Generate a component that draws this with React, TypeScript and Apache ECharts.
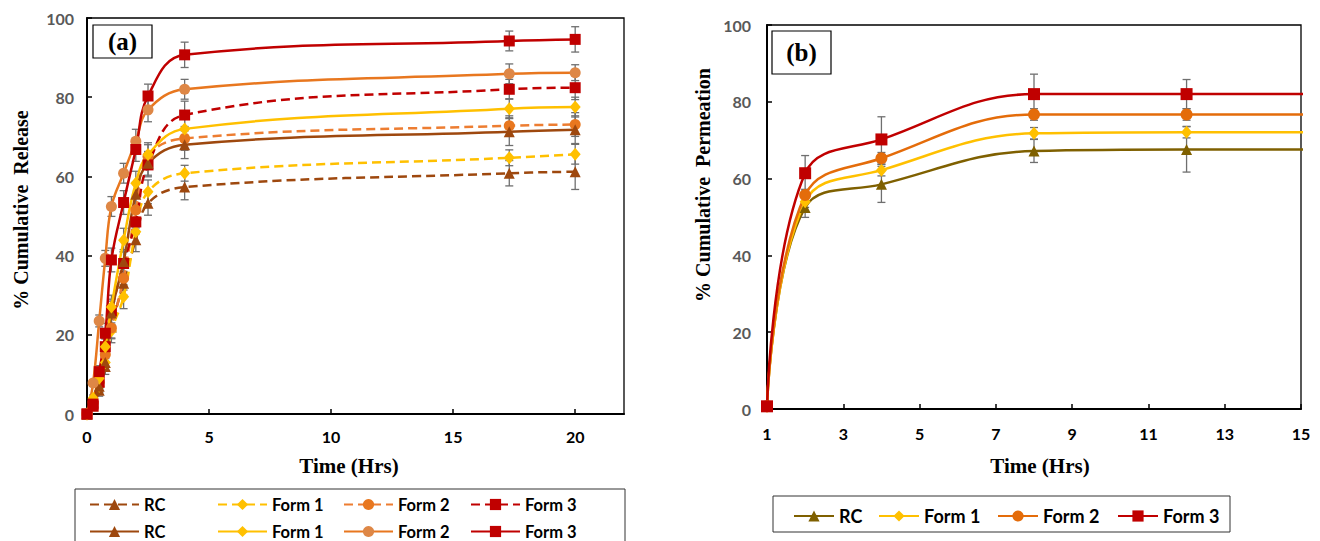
import React, { useEffect, useRef } from "react";
import * as echarts from "echarts";

// ---------- Panel (a): % cumulative release ----------
const timesA = [0, 0.25, 0.5, 0.75, 1, 1.5, 2, 2.5, 4, 17.3, 20];

const rcDashed = [0, 2, 6, 12, 22, 33, 44, 53.2, 57.3, 60.8, 61.2];
const form1Dashed = [0, 2.5, 7, 13, 21, 29.6, 46, 56.1, 60.8, 64.7, 65.6];
const form2Dashed = [0, 3, 8, 15, 21.7, 34.3, 51.5, 65, 69.6, 72.8, 73.1];
const form3Dashed = [0, 2, 8, 17, 26, 38, 48.5, 62.9, 75.5, 82, 82.4];

const rcSolid = [0, 3, 7, 13, 25.5, 38.5, 55.5, 63.3, 68, 71.3, 71.8];
const form1Solid = [0, 4, 9, 17, 27, 43.9, 58.3, 65.5, 72, 77.1, 77.5];
const form2Solid = [0, 7.8, 23.5, 39.3, 52.4, 60.8, 68.9, 76.8, 82, 85.9, 86.2];
const form3Solid = [0, 2.5, 10.7, 20.4, 38.9, 53.4, 66.8, 80.3, 90.7, 94.2, 94.6];

const errRcDashed = [0, 0.8, 1.5, 2, 3, 3, 3, 3, 3.2, 3.2, 4.5];
const errForm1Dashed = [0, 0.8, 1.5, 2, 3, 3, 3, 3, 2, 2, 2.5];
const errForm2Dashed = [0, 0.8, 1.5, 2, 2.5, 3, 3, 3, 3, 2.5, 3];
const errForm3Dashed = [0, 0.8, 1.5, 2, 3, 3, 3, 3, 3.5, 2.5, 3];
const errRcSolid = [0, 0.8, 1.5, 2, 3, 3, 3, 3, 3.5, 3.5, 3.5];
const errForm1Solid = [0, 0.8, 1.5, 2, 3, 3, 3, 3, 2.5, 2.5, 2.5];
const errForm2Solid = [0, 0.8, 1.5, 2, 2.5, 2.5, 3, 3, 2.5, 2.5, 2];
const errForm3Solid = [0, 0.8, 1.5, 2.5, 3, 3, 3, 3, 3.2, 2.5, 3.2];

const xTicksA = [0, 5, 10, 15, 20];

// ---------- Panel (b): % cumulative permeation ----------
const timesB = [1, 2, 4, 8, 12, 24];
const rcB = [0.7, 52.5, 58.5, 67.2, 67.6, 67.6];
const form1B = [0.7, 54.0, 62.2, 71.8, 72.1, 72.1];
const form2B = [0.7, 55.7, 65.3, 76.7, 76.7, 76.7];
const form3B = [0.7, 61.4, 70.2, 82.0, 82.0, 82.0];
const errRcB = [0, 2.6, 4.7, 3, 5.9];
const errForm1B = [0, 1.5, 1.5, 1.5, 1.5];
const errForm2B = [0, 1.5, 1.5, 1.5, 1.5];
const errForm3B = [0, 4.6, 5.9, 5.2, 3.8];
const xTicksB = [1, 3, 5, 7, 9, 11, 13, 15];

const labelOf = (name: string) => name.replace(/-(d|s|b)$/, "");

const errSeries = (gi: number, times: number[], vals: number[], errs: number[]) => ({
  type: "custom",
  xAxisIndex: gi,
  yAxisIndex: gi,
  silent: true,
  z: 3,
  encode: { x: 0, y: [1, 2] },
  data: errs
    .map((e, i) => [times[i], vals[i] - e, vals[i] + e])
    .filter((d, i) => errs[i] > 0),
  renderItem: (params: any, api: any) => {
    const x = api.value(0);
    const p1 = api.coord([x, api.value(1)]);
    const p2 = api.coord([x, api.value(2)]);
    const st = { stroke: "#6f6f6f", lineWidth: 1.3 };
    const cw = 4;
    return {
      type: "group",
      children: [
        { type: "line", shape: { x1: p1[0], y1: p1[1], x2: p2[0], y2: p2[1] }, style: st },
        { type: "line", shape: { x1: p1[0] - cw, y1: p1[1], x2: p1[0] + cw, y2: p1[1] }, style: st },
        { type: "line", shape: { x1: p2[0] - cw, y1: p2[1], x2: p2[0] + cw, y2: p2[1] }, style: st },
      ],
    };
  },
});

const lineSeries = (
  gi: number,
  name: string,
  times: number[],
  vals: number[],
  lineColor: string,
  markColor: string,
  symbol: string,
  size: number | number[],
  dashed: boolean,
  hideFrom = 99
) => ({
  type: "line",
  name,
  xAxisIndex: gi,
  yAxisIndex: gi,
  smooth: 0.4,
  symbol,
  symbolSize: size,
  z: 4,
  data: vals.map((v, i) =>
    i >= hideFrom ? { value: [times[i], v], symbol: "none" } : [times[i], v]
  ),
  lineStyle: { color: lineColor, width: 2.5, type: dashed ? [9, 5] : "solid" },
  itemStyle: { color: markColor },
});

export default function App() {
  const ref = useRef<HTMLDivElement>(null);
  useEffect(() => {
    if (!ref.current) return;
    const chart = echarts.init(ref.current, undefined, { renderer: "svg" });

    const tickLabelY = {
      color: "#595959",
      fontWeight: "bold",
      fontFamily: "Lato",
      fontSize: 16,
    };
    const tickLabelX = {
      color: "#000",
      fontWeight: "bold",
      fontFamily: "Lato",
      fontSize: 16,
    };
    const axisLine = { show: true, lineStyle: { color: "#000", width: 2 } };

    const RC = "#9E480E";
    const F1 = "#FFC000";
    const F2d = "#ED7D31";
    const F2s = "#E8771F";
    const F2m = "#DE8746";
    const F3 = "#C00000";

    const series: any[] = [
      lineSeries(0, "RC-d", timesA, rcDashed, RC, RC, "triangle", 11, true),
      lineSeries(0, "Form 1-d", timesA, form1Dashed, F1, F1, "diamond", [11, 13], true),
      lineSeries(0, "Form 2-d", timesA, form2Dashed, F2d, "#E8771F", "circle", 11, true),
      lineSeries(0, "Form 3-d", timesA, form3Dashed, F3, F3, "rect", 11, true),
      lineSeries(0, "RC-s", timesA, rcSolid, RC, RC, "triangle", 11, false),
      lineSeries(0, "Form 1-s", timesA, form1Solid, F1, F1, "diamond", [11, 13], false),
      lineSeries(0, "Form 2-s", timesA, form2Solid, F2s, F2m, "circle", 11, false),
      lineSeries(0, "Form 3-s", timesA, form3Solid, F3, F3, "rect", 11, false),
      errSeries(0, timesA, rcDashed, errRcDashed),
      errSeries(0, timesA, form1Dashed, errForm1Dashed),
      errSeries(0, timesA, form2Dashed, errForm2Dashed),
      errSeries(0, timesA, form3Dashed, errForm3Dashed),
      errSeries(0, timesA, rcSolid, errRcSolid),
      errSeries(0, timesA, form1Solid, errForm1Solid),
      errSeries(0, timesA, form2Solid, errForm2Solid),
      errSeries(0, timesA, form3Solid, errForm3Solid),
      lineSeries(1, "RC-b", timesB, rcB, "#7F6000", "#7F6000", "triangle", 11, false, 5),
      lineSeries(1, "Form 1-b", timesB, form1B, F1, F1, "diamond", [11, 13], false, 5),
      lineSeries(1, "Form 2-b", timesB, form2B, "#E46C0A", "#E46C0A", "circle", 12, false, 5),
      lineSeries(1, "Form 3-b", timesB, form3B, F3, F3, "rect", 12, false, 5),
      errSeries(1, timesB, rcB, errRcB),
      errSeries(1, timesB, form1B, errForm1B),
      errSeries(1, timesB, form2B, errForm2B),
      errSeries(1, timesB, form3B, errForm3B),
    ];

    const legendTextA = { fontFamily: "Lato", fontWeight: "bold", fontSize: 16.5, color: "#000", lineHeight: 14 };
    const legendTextB = { fontFamily: "Lato", fontWeight: "bold", fontSize: 18, color: "#000", lineHeight: 14 };
    const mkLegend = (name: string, left: number, cy: number, w: number, ts: any) => ({
      data: [name],
      left,
      top: cy - 7,
      padding: 0,
      itemWidth: w,
      itemHeight: 14,
      selectedMode: false,
      formatter: labelOf,
      textStyle: ts,
    });
    const xsA = [89, 217, 343, 470];
    const namesA1 = ["RC-d", "Form 1-d", "Form 2-d", "Form 3-d"];
    const namesA2 = ["RC-s", "Form 1-s", "Form 2-s", "Form 3-s"];
    const xsB = [793, 878, 997, 1117];
    const namesB = ["RC-b", "Form 1-b", "Form 2-b", "Form 3-b"];
    const legends = [
      ...namesA1.map((n, i) => mkLegend(n, xsA[i], 503, 49, legendTextA)),
      ...namesA2.map((n, i) => mkLegend(n, xsA[i], 530, 49, legendTextA)),
      ...namesB.map((n, i) => mkLegend(n, xsB[i], 514, 40, legendTextB)),
    ];

    const titleFont = { fontFamily: "Liberation Serif", fontWeight: "bold", fontSize: 20, fill: "#000" };

    chart.setOption({
      animation: false,
      backgroundColor: "#fff",
      grid: [
        { left: 87, top: 18, width: 537, height: 396, show: true, borderColor: "#000", borderWidth: 1.3 },
        { left: 767, top: 25, width: 534, height: 384, show: true, borderColor: "#000", borderWidth: 1.3 },
      ],
      xAxis: [
        {
          gridIndex: 0,
          type: "value",
          min: 0,
          max: 22,
          axisLine,
          axisTick: { inside: true, length: 5, customValues: xTicksA, lineStyle: { color: "#000", width: 1.5 } },
          axisLabel: { ...tickLabelX, margin: 14, customValues: xTicksA },
          splitLine: { show: false },
        },
        {
          gridIndex: 1,
          type: "value",
          min: 1,
          max: 15,
          axisLine,
          axisTick: { inside: true, length: 5, customValues: xTicksB, lineStyle: { color: "#000", width: 1.5 } },
          axisLabel: { ...tickLabelX, margin: 16, customValues: xTicksB },
          splitLine: { show: false },
        },
      ],
      yAxis: [
        {
          gridIndex: 0,
          type: "value",
          min: 0,
          max: 100,
          interval: 20,
          axisLine,
          axisTick: { show: true, inside: true, length: 5, lineStyle: { color: "#000", width: 1.5 } },
          axisLabel: { ...tickLabelY, margin: 13 },
          splitLine: { show: false },
        },
        {
          gridIndex: 1,
          type: "value",
          min: 0,
          max: 100,
          interval: 20,
          axisLine,
          axisTick: { show: true, inside: true, length: 5, lineStyle: { color: "#000", width: 1.5 } },
          axisLabel: { ...tickLabelY, margin: 16 },
          splitLine: { show: false },
        },
      ],
      legend: legends,
      series,
      graphic: [
        { type: "rect", shape: { x: 75, y: 489, width: 550, height: 60 }, style: { fill: "none", stroke: "#333", lineWidth: 1 }, z: 0 },
        { type: "rect", shape: { x: 773, y: 496, width: 457, height: 36 }, style: { fill: "none", stroke: "#333", lineWidth: 1 }, z: 0 },
        { type: "rect", shape: { x: 93, y: 25, width: 59, height: 33 }, style: { fill: "#fff", stroke: "#000", lineWidth: 1.2 }, z: 10 },
        { type: "text", x: 122.5, y: 41.5, z: 11, style: { text: "(a)", ...titleFont, fontSize: 25, align: "center", verticalAlign: "middle" } },
        { type: "rect", shape: { x: 772, y: 31, width: 59, height: 43 }, style: { fill: "#fff", stroke: "#000", lineWidth: 1.2 }, z: 10 },
        { type: "text", x: 801.5, y: 52.5, z: 11, style: { text: "(b)", ...titleFont, fontSize: 25, align: "center", verticalAlign: "middle" } },
        { type: "text", x: 21, y: 210, rotation: Math.PI / 2, style: { text: "% Cumulative  Release", ...titleFont, align: "center", verticalAlign: "middle" } },
        { type: "text", x: 703, y: 185, rotation: Math.PI / 2, style: { text: "% Cumulative  Permeation", ...titleFont, align: "center", verticalAlign: "middle" } },
        { type: "text", x: 349, y: 466, style: { text: "Time (Hrs)", ...titleFont, fontSize: 21, align: "center", verticalAlign: "middle" } },
        { type: "text", x: 1040, y: 466, style: { text: "Time (Hrs)", ...titleFont, fontSize: 21, align: "center", verticalAlign: "middle" } },
      ],
    });
    return () => chart.dispose();
  }, []);

  return (
    <div
      ref={ref}
      style={{ position: "fixed", left: 0, top: 0, width: 1320, height: 541, background: "#fff" }}
    />
  );
}
